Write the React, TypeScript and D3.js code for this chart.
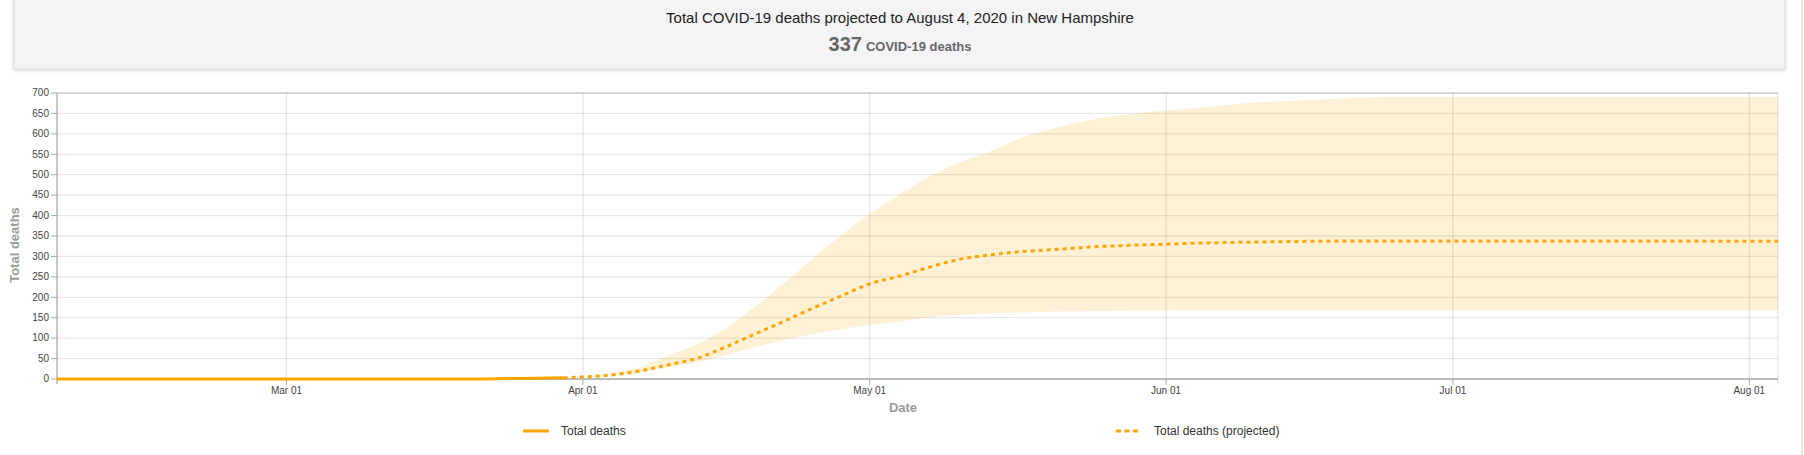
import React from "react";
import * as d3 from "d3";

const observedDates = ["2020-02-06", "2020-03-20", "2020-03-24", "2020-03-27", "2020-03-30"];
const observedValues = [0, 0, 1, 2, 3];

const projDates = [
  "2020-03-30", "2020-04-01", "2020-04-04", "2020-04-07", "2020-04-10", "2020-04-13",
  "2020-04-16", "2020-04-19", "2020-04-22", "2020-04-25", "2020-04-28", "2020-05-01",
  "2020-05-04", "2020-05-07", "2020-05-10", "2020-05-14", "2020-05-17", "2020-05-21",
  "2020-05-24", "2020-05-28", "2020-06-01", "2020-06-05", "2020-06-10", "2020-06-16",
  "2020-06-24", "2020-07-10", "2020-08-04",
];
const projValues = [3, 5, 10, 20, 35, 51, 79, 110, 141, 173, 203, 233, 251, 272, 291, 305, 312, 318, 323, 327, 330, 333, 335, 337, 338, 338, 337];
const lowerValues = [3, 4, 9, 16, 28, 41, 59, 78, 95, 110, 122, 132, 140, 150, 156, 161, 163, 165, 166, 167, 167, 168, 168, 168, 168, 168, 168];
const upperValues = [3, 6, 14, 30, 58, 85, 125, 177, 233, 294, 352, 404, 450, 492, 526, 561, 591, 618, 634, 648, 657, 665, 676, 682, 690, 690, 690];

const xTickDates = ["2020-03-01", "2020-04-01", "2020-05-01", "2020-06-01", "2020-07-01", "2020-08-01"];
const yTicks = [0, 50, 100, 150, 200, 250, 300, 350, 400, 450, 500, 550, 600, 650, 700];

const W = 1804, H = 455;
const L = 57, R = 1778, T = 93, B = 379;
const ORANGE = "#ffa500";
const FONT = "'Liberation Sans', Arial, sans-serif";

const parse = d3.utcParse("%Y-%m-%d");

export default function App() {
  const x = d3.scaleUtc().domain([parse("2020-02-06")!, parse("2020-08-04")!]).range([L, R]);
  const y = d3.scaleLinear().domain([0, 700]).range([B, T]);
  const fmt = d3.utcFormat("%b %d");

  const proj = projDates.map((d, i) => ({ d: parse(d)!, v: projValues[i], lo: lowerValues[i], hi: upperValues[i] }));
  const obs = observedDates.map((d, i) => ({ d: parse(d)!, v: observedValues[i] }));

  const area = d3.area<any>().x((p) => x(p.d)).y0((p) => y(p.lo)).y1((p) => y(p.hi)).curve(d3.curveMonotoneX);
  const line = d3.line<any>().x((p) => x(p.d)).y((p) => y(p.v)).curve(d3.curveMonotoneX);

  return (
    <svg width={W} height={H} style={{ position: "absolute", left: 0, top: 0, background: "#fff" }} fontFamily={FONT}>
      <defs>
        <filter id="sh" x="-5%" y="-50%" width="110%" height="200%">
          <feDropShadow dx="0" dy="1" stdDeviation="1.5" floodColor="#000" floodOpacity="0.18" />
        </filter>
      </defs>
      {/* header box */}
      <rect x={14} y={-10} width={1771} height={79} fill="#f4f4f6" stroke="#dcdcdc" strokeWidth={1} filter="url(#sh)" />
      <text x={900} y={23} textAnchor="middle" fontSize={15} fill="#222">
        Total COVID-19 deaths projected to August 4, 2020 in New Hampshire
      </text>
      <text x={900} y={51} textAnchor="middle" fill="#666" fontWeight="bold">
        <tspan fontSize={20}>337</tspan>
        <tspan fontSize={13} dx={4}>COVID-19 deaths</tspan>
      </text>

      {/* band */}
      <path d={area(proj) || ""} fill={ORANGE} fillOpacity={0.16} />

      {/* grid */}
      {yTicks.map((t) => (
        <line key={"gy" + t} x1={L} x2={R} y1={y(t)} y2={y(t)} stroke="#000" strokeOpacity={0.09} strokeWidth={1.3} />
      ))}
      {xTickDates.map((t) => (
        <line key={"gx" + t} x1={x(parse(t)!)} x2={x(parse(t)!)} y1={T} y2={B} stroke="#000" strokeOpacity={0.1} strokeWidth={1.3} />
      ))}
      <line x1={R} x2={R} y1={T} y2={B + 5} stroke="#000" strokeOpacity={0.1} strokeWidth={1.3} />
      <line x1={L} x2={R} y1={T} y2={T} stroke="#000" strokeOpacity={0.13} strokeWidth={1.5} />

      {/* axes */}
      <line x1={L} x2={L} y1={T} y2={B + 5} stroke="#aaa" strokeWidth={1.3} />
      <line x1={L} x2={R} y1={B} y2={B} stroke="#aaa" strokeWidth={1.6} />
      {yTicks.map((t) => (
        <g key={"yt" + t}>
          <line x1={L - 6} x2={L} y1={y(t)} y2={y(t)} stroke="#aaa" strokeWidth={1} />
          <text x={L - 8} y={y(t)} dy="0.33em" textAnchor="end" fontSize={10} fill="#444">{t}</text>
        </g>
      ))}
      {xTickDates.map((t) => (
        <g key={"xt" + t}>
          <line x1={x(parse(t)!)} x2={x(parse(t)!)} y1={B} y2={B + 6} stroke="#aaa" strokeWidth={1} />
          <text x={x(parse(t)!)} y={394} textAnchor="middle" fontSize={10} fill="#444">{fmt(parse(t)!)}</text>
        </g>
      ))}

      {/* lines */}
      <path d={line(obs) || ""} fill="none" stroke={ORANGE} strokeWidth={3} />
      <path d={line(proj) || ""} fill="none" stroke={ORANGE} strokeWidth={3} strokeDasharray="4,4" />

      {/* axis titles */}
      <text transform={`translate(19,245) rotate(-90)`} textAnchor="middle" fontSize={13} fill="#999" fontWeight="bold">Total deaths</text>
      <text x={903} y={412} textAnchor="middle" fontSize={13} fill="#999" fontWeight="bold">Date</text>

      {/* legend */}
      <line x1={523} x2={549} y1={431} y2={431} stroke={ORANGE} strokeWidth={3} />
      <text x={561} y={435} fontSize={12} fill="#333">Total deaths</text>
      <line x1={1116} x2={1141} y1={431} y2={431} stroke={ORANGE} strokeWidth={3} strokeDasharray="5,3.5" />
      <text x={1154} y={435} fontSize={12} fill="#333">Total deaths (projected)</text>

      {/* right edge line */}
      <line x1={1802} x2={1802} y1={0} y2={H} stroke="#ddd" strokeWidth={1.5} />
    </svg>
  );
}
